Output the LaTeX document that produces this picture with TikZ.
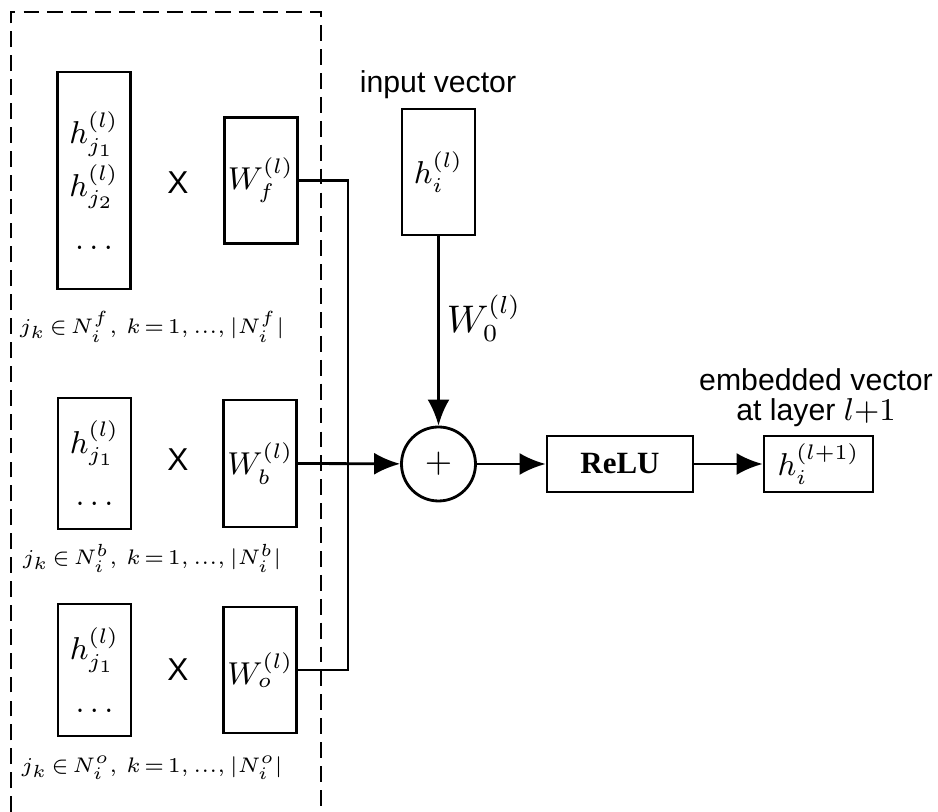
\documentclass[tikz,border=0pt]{standalone}
\usepackage{amsmath,amssymb}
\usepackage{fontspec}
\setsansfont{Liberation Sans}
\newfontfamily\relufont{Liberation Serif}
\usetikzlibrary{positioning,arrows.meta}
\newcommand\setcond[1]{$\thickmuskip=2.5mu\medmuskip=2mu j_k\in N_i^{#1},\,k=1,...,|N_i^{#1}|$}

\begin{document}
\begin{tikzpicture}[>={Latex[length=2.6mm,width=2.2mm]}, thick,
every node/.style={inner sep=0pt, align=center},
vecbox/.style={draw, minimum width=0.73cm, font=\fontsize{9}{15}\selectfont},
opbox/.style={draw, minimum height=0.56cm},
txt/.style={font=\sffamily\fontsize{8.6}{8.6}\selectfont},
setlbl/.style={font=\fontsize{6.5}{8}\selectfont}]
\useasboundingbox (0,0) rectangle (9.38,8.12);
\draw[dash pattern=on 4.5pt off 2.3pt] (0.11,0) -- (0.11,8.0) -- (3.21,8.0) -- (3.21,0);
\node[vecbox, minimum height=2.17cm] (hf) at (0.94,6.315) {$h^{(l)}_{j_1}$\\$h^{(l)}_{j_2}$\\$\ldots$};
\node[vecbox, minimum height=1.26cm, right=0.91cm of hf] (wf) {$W^{(l)}_f$};
\node[txt, font=\sffamily\fontsize{9}{9}\selectfont] (xf) at (1.78,6.29) {X};
\node[setlbl] (nf) at (1.52,4.85) {\setcond{f}};
\node[vecbox, minimum height=1.31cm] (hb) at (0.945,3.485) {$h^{(l)}_{j_1}$\\$\ldots$};
\node[vecbox, minimum height=1.27cm, right=0.9cm of hb] (wb) {$W^{(l)}_b$};
\node[txt, font=\sffamily\fontsize{9}{9}\selectfont] (xb) at (1.78,3.52) {X};
\node[setlbl] (nb) at (1.52,2.54) {\setcond{b}};
\node[vecbox, minimum height=1.32cm] (ho) at (0.945,1.42) {$h^{(l)}_{j_1}$\\$\ldots$};
\node[vecbox, minimum height=1.26cm, right=0.9cm of ho] (wo) {$W^{(l)}_o$};
\node[txt, font=\sffamily\fontsize{9}{9}\selectfont] (xo) at (1.78,1.42) {X};
\node[setlbl] (no) at (1.52,0.44) {\setcond{o}};
\node[vecbox, minimum height=1.26cm] (hi) at (4.385,6.40) {$h^{(l)}_i$};
\node[txt] (inlbl) at (4.38,7.27) {input vector};
\node[draw, circle, minimum size=0.74cm, font=\fontsize{10}{10}\selectfont] (sum) at (4.385,3.48) {$+$};
\node[font=\fontsize{10.5}{12}\selectfont] (w0) at (4.84,4.94) {$W^{(l)}_0$};
\node[opbox, minimum width=1.46cm, font=\relufont\bfseries\fontsize{8.8}{8.8}\selectfont] (relu) at (6.20,3.48) {ReLU};
\node[opbox, minimum width=1.09cm, font=\fontsize{9}{9}\selectfont] (hout) at (8.185,3.48) {$h^{(l+1)}_i$};
\node[txt] (outlbl) at (8.16,4.14) {embedded vector\\at layer $l{+}1$};
\coordinate (bus) at (3.48,3.48);
\draw (wf.east) -| (bus) |- (wo.east);
\draw[->] (wb.east) -- (sum);
\draw[->] (hi) -- (sum);
\draw[->] (sum) -- (relu);
\draw[->] (relu) -- (hout);
\end{tikzpicture}
\end{document}
